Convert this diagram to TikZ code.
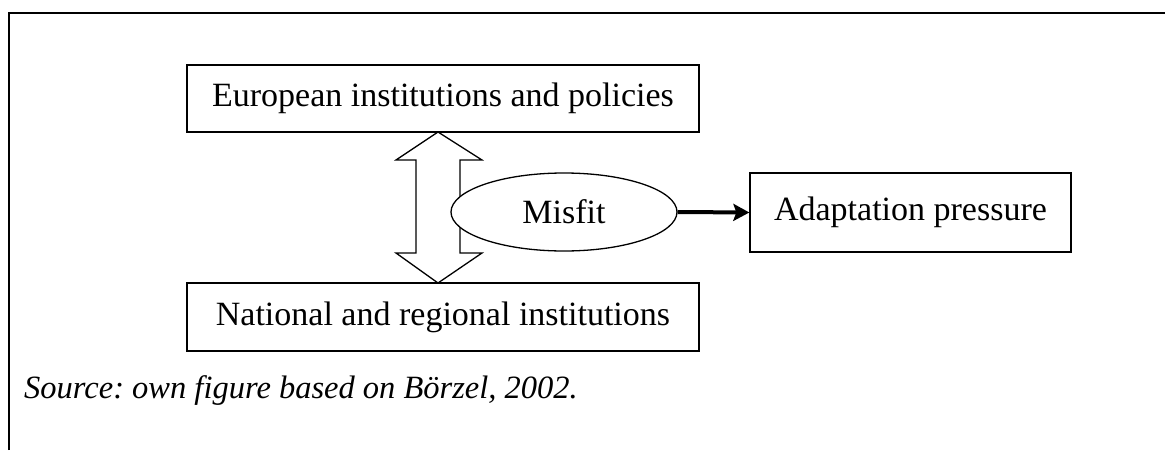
\documentclass[tikz,border=0pt]{standalone}
\usepackage{fontspec}
\setmainfont{Liberation Serif}
\usetikzlibrary{arrows.meta,shapes.geometric}
\frenchspacing
\begin{document}
\begin{tikzpicture}[x=1pt,y=-1pt,
  boxnode/.style={draw,line width=1.3pt,inner sep=0pt,font=\fontsize{34}{40}\selectfont},
  ellnode/.style={draw,ellipse,fill=white,line width=1.3pt,inner sep=0pt,minimum width=226pt,minimum height=78pt,font=\fontsize{34}{40}\selectfont},
  bigarrow/.style={draw,line width=1.3pt,line join=miter},
  thickarrow/.style={line width=4pt,-{Stealth[length=16pt,width=17pt,inset=3pt]}},
  framestyle/.style={line width=1.6pt}]
\useasboundingbox (0,0) rectangle (1165,450);
\draw[framestyle] (9,450) -- (9,13) -- (1165,13);
\node[boxnode,minimum width=512pt,minimum height=67pt] (eu) at (443,98.5) {European institutions and policies};
\node[boxnode,minimum width=512pt,minimum height=68pt] (na) at (443,317) {National and regional institutions};
\node[boxnode,minimum width=321pt,minimum height=79pt] (ad) at (910.5,212.5) {\raisebox{8pt}{Adaptation pressure}};
\coordinate (dtop) at (438,132);
\coordinate (dbot) at (438,283);
\draw[bigarrow] (dtop) -- (482,160) -- (460,160) -- (460,253) -- (482,253) -- (dbot) -- (396,253) -- (416,253) -- (416,160) -- (396,160) -- cycle;
\node[ellnode] (mis) at (564,212) {Misfit};
\draw[thickarrow] (mis.east) -- (ad.west);
\node[anchor=base west,inner sep=0pt,font=\fontsize{32.5}{40}\selectfont\itshape] (src) at (24,398) {Source: own figure based on Börzel, 2002.};
\end{tikzpicture}
\end{document}
